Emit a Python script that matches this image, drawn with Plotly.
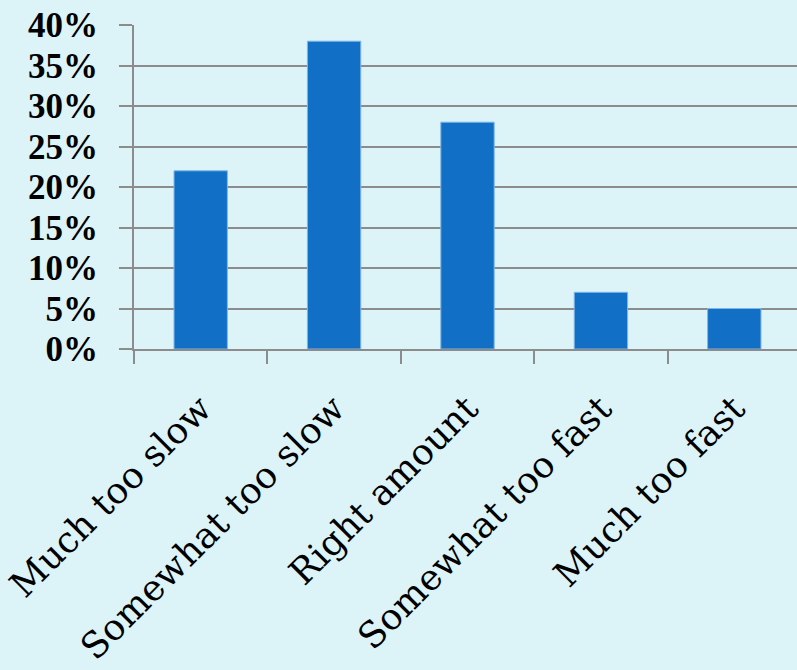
import plotly.graph_objects as go

categories = ["Much too slow", "Somewhat too slow", "Right amount",
              "Somewhat too fast", "Much too fast"]
shares = [22, 38, 28, 7, 5]
y_ticks = [0, 5, 10, 15, 20, 25, 30, 35, 40]
y_tick_labels = [f"{v}%" for v in y_ticks]

bg = "#DCF4F8"
grid = "#8C8C8C"

fig = go.Figure(
    go.Bar(
        x=categories,
        y=shares,
        marker=dict(color="#116FC6", line=dict(color="#7FB6E6", width=1)),
        width=0.4,
    )
)

fig.update_layout(
    width=797,
    height=670,
    margin=dict(l=134, r=0, t=25, b=321),
    paper_bgcolor=bg,
    plot_bgcolor=bg,
    showlegend=False,
)

fig.update_xaxes(
    automargin=False,
    range=[-0.5, 4.47],
    showline=True,
    linecolor=grid,
    linewidth=2,
    ticks="outside",
    tickson="boundaries",
    ticklen=13,
    tickwidth=2,
    tickcolor=grid,
    tickangle=-45,
    ticklabelstandoff=22,
    tickfont=dict(family="DejaVu Serif", size=36, color="black"),
    showgrid=False,
)

fig.update_yaxes(
    automargin=False,
    range=[0, 40],
    tickvals=y_ticks,
    ticktext=y_tick_labels,
    showline=True,
    linecolor=grid,
    linewidth=2,
    ticks="outside",
    ticklen=13,
    tickwidth=2,
    tickcolor=grid,
    showgrid=True,
    gridcolor=grid,
    gridwidth=2,
    zeroline=False,
    ticklabelstandoff=14,
    tickfont=dict(family="Liberation Serif", size=35, color="black", weight="bold"),
)

fig.write_html("out.html")
